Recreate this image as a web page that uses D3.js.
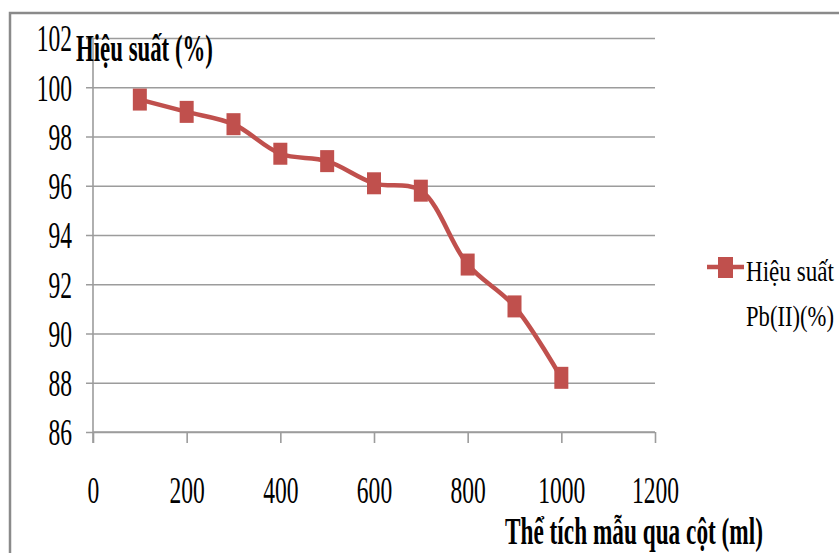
<!DOCTYPE html>
<html>
<head>
<meta charset="utf-8">
<script src="https://cdn.jsdelivr.net/npm/d3@7/dist/d3.min.js"></script>
<style>
  html, body { margin: 0; padding: 0; background: #fff; }
  svg { display: block; }
  text { font-family: "Liberation Serif", "Times New Roman", serif; fill: #000; }
</style>
</head>
<body>
<svg id="chart" width="839" height="553"></svg>
<script>
// Sample volume passed through the column (ml) and Pb(II) recovery (%)
const volumes = [100, 200, 300, 400, 500, 600, 700, 800, 900, 1000];
const efficiency = [99.5, 99.0, 98.5, 97.3, 97.0, 96.1, 95.8, 92.8, 91.1, 88.2];
const xTicks = [0, 200, 400, 600, 800, 1000, 1200];
const yTicks = [86, 88, 90, 92, 94, 96, 98, 100, 102];
const yTitle = "Hiệu suất (%)";
const xTitle = "Thể tích mẫu qua cột (ml)";
const legendLines = ["Hiệu suất", "Pb(II)(%)"];

const red = "#C0504D";
const grid = "#9c9c9c";
const narrow = 0.62; // horizontal squeeze of the serif labels

const svg = d3.select("#chart");

// place a text squeezed horizontally so it spans a given width from its left edge
function squeezedText(parent, str, left, baseline, size, weight, width) {
  const t = parent.append("text")
    .style("font-size", size + "px")
    .style("font-weight", weight)
    .text(str);
  const natural = t.node().getComputedTextLength();
  const k = width / natural;
  t.attr("transform", `translate(${left},${baseline}) scale(${k},1)`);
  return t;
}

// outer frame (top and left edges)
svg.append("path")
  .attr("d", "M10,553 L10,13 L839,13")
  .attr("fill", "none")
  .attr("stroke", "#8a8a8a")
  .attr("stroke-width", 2.5);

const x = d3.scaleLinear().domain([0, 1200]).range([93, 655]);
const y = d3.scaleLinear().domain([86, 102]).range([432, 38]);

// horizontal gridlines with short outside ticks
const yAxis = svg.append("g")
  .attr("transform", `translate(${x(0)},0)`)
  .call(d3.axisLeft(y).tickValues(yTicks).tickSize(7).tickFormat(d3.format("d")));
yAxis.select(".domain").remove();
yAxis.selectAll(".tick line")
  .attr("x1", -7).attr("x2", x(1200) - x(0))
  .attr("stroke", grid).attr("stroke-width", 1.6);
yAxis.selectAll(".tick text")
  .attr("x", -21 / narrow)
  .attr("dy", "0.34em")
  .attr("transform", `scale(${narrow},1)`)
  .style("font-size", "38px")
  .style("font-family", "'Liberation Serif', 'Times New Roman', serif")
  .attr("fill", "#000");

// vertical value axis line
svg.append("line")
  .attr("x1", x(0)).attr("x2", x(0))
  .attr("y1", y(102)).attr("y2", y(86) + 11)
  .attr("stroke", grid).attr("stroke-width", 1.6);

// category axis with downward ticks
const xAxis = svg.append("g")
  .attr("transform", `translate(0,${y(86)})`)
  .call(d3.axisBottom(x).tickValues(xTicks).tickSize(11).tickFormat(d3.format("d")));
xAxis.select(".domain")
  .attr("d", `M${x(0)},0H${x(1200)}`)
  .attr("stroke", grid).attr("stroke-width", 1.6);
xAxis.selectAll(".tick line").attr("stroke", grid).attr("stroke-width", 1.6);
xAxis.selectAll(".tick text")
  .attr("y", 71).attr("dy", 0)
  .attr("transform", `scale(${narrow},1)`)
  .attr("x", 0)
  .style("font-size", "38px")
  .style("font-family", "'Liberation Serif', 'Times New Roman', serif")
  .attr("fill", "#000");

// axis titles
squeezedText(svg, yTitle, 76, 61, 37, "bold", 137);
squeezedText(svg, xTitle, 505, 544, 37, "bold", 258);

// data series
const pts = volumes.map((v, i) => [v, efficiency[i]]);
svg.append("path")
  .datum(pts)
  .attr("fill", "none")
  .attr("stroke", red)
  .attr("stroke-width", 4.5)
  .attr("stroke-linejoin", "round")
  .attr("d", d3.line().x(d => x(d[0])).y(d => y(d[1])).curve(d3.curveCatmullRom.alpha(0.5)));

svg.append("g").selectAll("rect")
  .data(pts)
  .join("rect")
  .attr("x", d => x(d[0]) - 7)
  .attr("y", d => y(d[1]) - 11)
  .attr("width", 14)
  .attr("height", 22)
  .attr("fill", red);

// legend
const lg = svg.append("g");
lg.append("line")
  .attr("x1", 707).attr("x2", 744).attr("y1", 267).attr("y2", 267)
  .attr("stroke", red).attr("stroke-width", 4.5);
lg.append("rect")
  .attr("x", 718).attr("y", 257).attr("width", 15).attr("height", 21)
  .attr("fill", red);
legendLines.forEach((s, i) => squeezedText(lg, s, 746, 281 + i * 45, 30, "normal", 88));
</script>
</body>
</html>
